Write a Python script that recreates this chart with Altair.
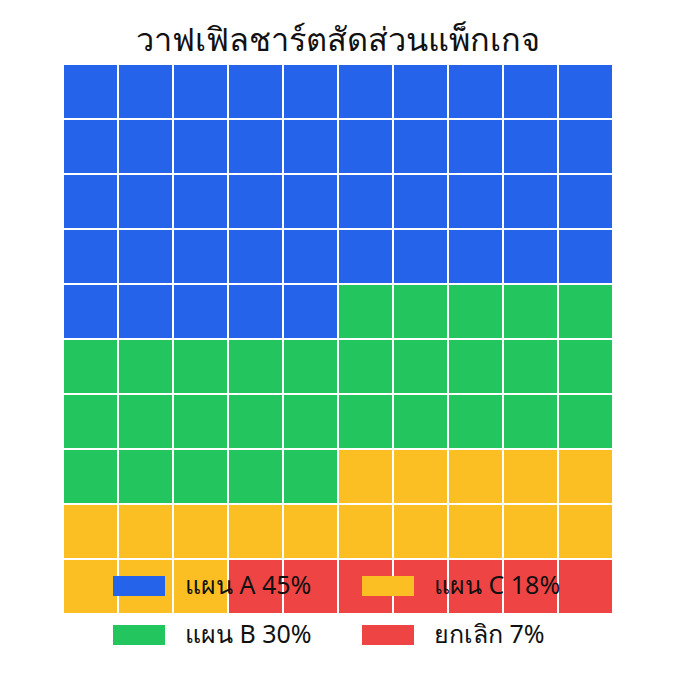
import altair as alt
import pandas as pd

categories = ["แผน A", "แผน B", "แผน C", "ยกเลิก"]
counts = [45, 30, 18, 7]
colors = ["#2563EB", "#22C55E", "#FBBF24", "#EF4444"]
title_text = "วาฟเฟิลชาร์ตสัดส่วนแพ็กเกจ"

labels = [f"{c} {n}%" for c, n in zip(categories, counts)]
color_of = dict(zip(labels, colors))
rows = []
i = 0
for lab, n in zip(labels, counts):
    for _ in range(n):
        rows.append({"col": i % 10, "row": i // 10, "cat": lab})
        i += 1
df = pd.DataFrame(rows)

# legend is filled row by row; this order puts A,B in column 1 and C,cancel in column 2
legend_order = [labels[0], labels[2], labels[1], labels[3]]

rect_path = "M-1,-0.385H1V0.385H-1Z"

chart = alt.Chart(df).mark_rect(stroke="white", strokeWidth=2).encode(
    x=alt.X("col:O", axis=None, scale=alt.Scale(paddingInner=0, paddingOuter=0)),
    y=alt.Y("row:O", axis=None, scale=alt.Scale(paddingInner=0, paddingOuter=0)),
    color=alt.Color(
        "cat:N",
        scale=alt.Scale(domain=legend_order, range=[color_of[l] for l in legend_order]),
        legend=alt.Legend(
            title=None,
            orient="none",
            legendX=50,
            legendY=496,
            columns=2,
            direction="horizontal",
            symbolType=rect_path,
            symbolSize=2704,
            symbolStrokeWidth=0,
            symbolOpacity=1,
            labelFontSize=25,
            labelFont="Noto Sans",
            labelColor="#111111",
            labelOffset=20,
            columnPadding=50,
            rowPadding=10,
            labelLimit=300,
        ),
    ),
).properties(
    width=550,
    height=550,
    title=alt.TitleParams(title_text, fontSize=32.5, font="Noto Sans", fontWeight="normal", color="#111111", offset=6),
    autosize=alt.AutoSizeParams(type="none"),
    padding={"left": 55, "top": 56, "right": 40, "bottom": 40},
).configure_view(stroke=None)

chart.save("out.html", embed_options={"renderer": "svg", "actions": False})
